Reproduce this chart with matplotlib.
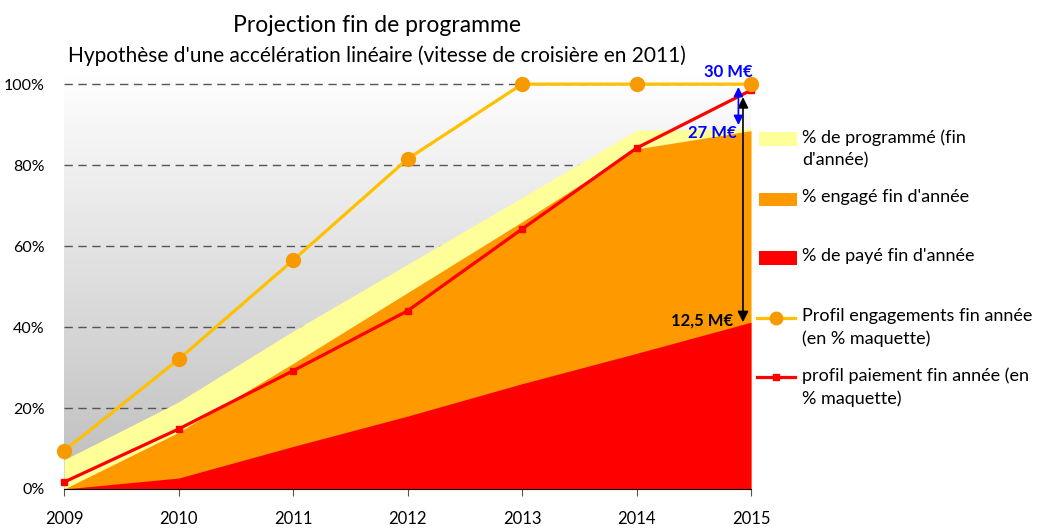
import numpy as np
import matplotlib.pyplot as plt
from matplotlib.patches import Rectangle
from matplotlib.lines import Line2D
from matplotlib.colors import LinearSegmentedColormap

plt.rcParams['font.family'] = ['Lato', 'DejaVu Sans']

years = [2009, 2010, 2011, 2012, 2013, 2014, 2015]
programme = [0.072, 0.215, 0.39, 0.555, 0.72, 0.886, 0.89]
engage = [0.0, 0.14, 0.31, 0.485, 0.66, 0.84, 0.885]
paye = [0.0, 0.027, 0.105, 0.18, 0.26, 0.335, 0.412]
profil_engagements = [0.094, 0.32, 0.565, 0.815, 1.0, 1.0, 1.0]
profil_paiement = [0.017, 0.148, 0.292, 0.44, 0.642, 0.842, 0.985]

legend_labels = ["% de programmé (fin\nd'année)", "% engagé fin d'année",
                 "% de payé fin d'année",
                 "Profil engagements fin année\n(en % maquette)",
                 "profil paiement fin année (en\n% maquette)"]

c_yellow = '#FFFF99'
c_orange = '#FF9900'
c_red = '#FF0000'
c_line = '#FFC000'
c_marker = '#F79A00'

fig = plt.figure(figsize=(10.4, 5.28), dpi=100)
ax = fig.add_axes([64 / 1040, 39 / 528, 687 / 1040, 417 / 528])
ymax = 1.03

# gradient background
grad = np.linspace(0, 1, 256).reshape(-1, 1)
cmap = LinearSegmentedColormap.from_list('bg', ['#bdbdbd', '#ffffff'])
ax.imshow(grad, extent=[2009, 2015, 0, ymax], origin='lower', aspect='auto',
          cmap=cmap, zorder=0)

for v in [0.2, 0.4, 0.6, 0.8, 1.0]:
    ax.axhline(v, color='#555555', lw=1, ls=(0, (6, 4)), zorder=1)

ax.fill_between(years, 0, programme, color=c_yellow, lw=0, zorder=2)
ax.fill_between(years, 0, engage, color=c_orange, lw=0, zorder=3)
ax.fill_between(years, 0, paye, color=c_red, lw=0, zorder=4)

ax.plot(years, profil_engagements, color=c_line, lw=2.3, marker='o', ms=10,
        mfc=c_marker, mec=c_marker, zorder=6, clip_on=False)
ax.plot(years, profil_paiement, color=c_red, lw=2.3, marker='s', ms=5,
        mfc=c_red, mec=c_red, zorder=5, clip_on=False)

# arrows and amounts
ax.annotate('', xy=(2014.93, 0.968), xytext=(2014.93, 0.412),
            arrowprops=dict(arrowstyle='<|-|>', color='black', lw=1.2,
                            mutation_scale=16, shrinkA=0, shrinkB=0), zorder=8)
ax.annotate('', xy=(2014.89, 0.993), xytext=(2014.89, 0.899),
            arrowprops=dict(arrowstyle='<|-|>', color='#0000FF', lw=1.2,
                            mutation_scale=14, shrinkA=0, shrinkB=0), zorder=8)
ax.text(2014.80, 1.03, '30 M€', color='#0000FF', fontweight='bold', fontsize=12,
        ha='center', va='center', zorder=9, clip_on=False)
ax.text(2014.66, 0.879, '27 M€', color='#0000FF', fontweight='bold', fontsize=12,
        ha='center', va='center', zorder=9)
ax.text(2014.57, 0.417, '12,5 M€', color='black', fontweight='bold', fontsize=12,
        ha='center', va='center', zorder=9)

ax.set_xlim(2009, 2015)
ax.set_ylim(0, ymax)
ax.set_xticks(years)
ax.set_xticklabels([str(y) for y in years], fontsize=12)
ax.set_yticks([0, 0.2, 0.4, 0.6, 0.8, 1.0])
ax.set_yticklabels(['0%', '20%', '40%', '60%', '80%', '100%'], fontsize=11.5)
ax.tick_params(axis='y', length=0, pad=14)
ax.tick_params(axis='x', length=5, direction='out', color='#555555', pad=11)
for s in ['left', 'right', 'top']:
    ax.spines[s].set_visible(False)
ax.spines['bottom'].set_color('black')
ax.spines['bottom'].set_zorder(7)

fig.text(377 / 1040, 1 - 25 / 528, 'Projection fin de programme', fontsize=16.5,
         ha='center', va='center')
fig.text(377 / 1040, 1 - 56 / 528,
         "Hypothèse d'une accélération linéaire (vitesse de croisière en 2011)",
         fontsize=15, ha='center', va='center')

# legend drawn by hand to keep Excel-like spacing
handle_y = [139, 199, 258, 318, 377]
patch_colors = [c_yellow, c_orange, c_red]
for i, (lab, hy) in enumerate(zip(legend_labels, handle_y)):
    yf = 1 - hy / 528
    if i < 3:
        fig.add_artist(Rectangle((759 / 1040, yf - 6.5 / 528), 38 / 1040, 13 / 528,
                                 transform=fig.transFigure, color=patch_colors[i], lw=0))
    elif i == 3:
        fig.add_artist(Line2D([757 / 1040, 795 / 1040], [yf, yf], color=c_line, lw=2.3,
                              transform=fig.transFigure))
        fig.add_artist(Line2D([776 / 1040], [yf], marker='o', ms=9, mfc=c_marker,
                              mec=c_marker, transform=fig.transFigure))
    else:
        fig.add_artist(Line2D([757 / 1040, 795 / 1040], [yf, yf], color=c_red, lw=2.3,
                              transform=fig.transFigure))
        fig.add_artist(Line2D([776 / 1040], [yf], marker='s', ms=5, mfc=c_red,
                              mec=c_red, transform=fig.transFigure))
    fig.text(802 / 1040, yf + 10 / 528, lab, fontsize=13, ha='left', va='top',
             linespacing=1.5)

fig.savefig('out.png', dpi=100)
